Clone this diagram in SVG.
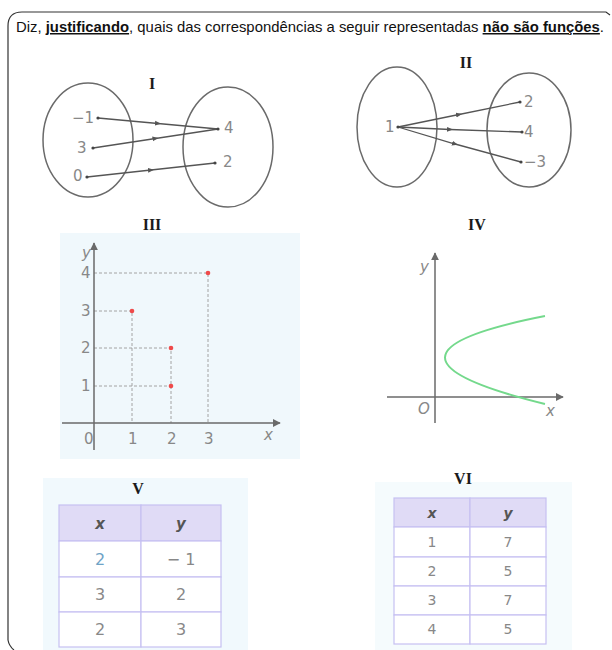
<svg xmlns="http://www.w3.org/2000/svg" width="612" height="650" viewBox="0 0 612 650">
<defs>
<style>
.title{font-family:"Liberation Sans",Arial,sans-serif;font-size:15px;fill:#111}
.roman{font-family:"Liberation Serif","Times New Roman",serif;font-weight:bold;font-size:16px;fill:#1a1a1a;text-anchor:middle}
.num{font-family:"DejaVu Sans","Liberation Sans",sans-serif;font-size:15px;fill:#888}
.ax{font-family:"DejaVu Sans","Liberation Sans",sans-serif;font-size:15px;fill:#888;font-style:italic}
.ell{fill:none;stroke:#6a6a6a;stroke-width:1.5}
.map{fill:none;stroke:#555;stroke-width:1.3;marker-mid:url(#mid)}
.dot{fill:#444}
.axis{stroke:#6a6a6a;stroke-width:1.5;fill:none}
.dash{stroke:#9a9a9a;stroke-width:0.9;stroke-dasharray:3 2;fill:none}
.pt{fill:#ef4a4a}
.cell{fill:#fff;stroke:#c6c0f2;stroke-width:1.2}
.head{fill:#e0dbf6;stroke:#c6c0f2;stroke-width:1.2}
.th{font-family:"DejaVu Sans","Liberation Sans",sans-serif;font-weight:bold;font-style:italic;font-size:15px;fill:#555;text-anchor:middle}
.td{font-family:"DejaVu Sans","Liberation Sans",sans-serif;font-size:16px;fill:#888;text-anchor:middle}
</style>
<marker id="mid" viewBox="0 0 10 10" refX="5" refY="5" markerWidth="6" markerHeight="6" orient="auto" markerUnits="userSpaceOnUse">
<path d="M0,1 L10,5 L0,9 Z" fill="#555"/>
</marker>
<marker id="axarr" viewBox="0 0 10 10" refX="9" refY="5" markerWidth="8" markerHeight="8" orient="auto" markerUnits="userSpaceOnUse">
<path d="M0,0 L10,5 L0,10 Z" fill="#6a6a6a"/>
</marker>
</defs>
<rect width="612" height="650" fill="#fff"/>
<!-- frame -->
<path d="M8,640 L8,26 Q8,12 22,12 L606,12 L610,15" fill="none" stroke="#333" stroke-width="1.2"/>
<path d="M8,640 Q9,646 14,650" fill="none" stroke="#333" stroke-width="1.2"/>
<text class="title" x="16" y="32" textLength="588" lengthAdjust="spacingAndGlyphs">Diz, <tspan font-weight="bold" text-decoration="underline">justificando</tspan>, quais das correspondências a seguir representadas <tspan font-weight="bold" text-decoration="underline">não são funções</tspan>.</text>

<!-- I -->
<g id="diagram-I">
<text class="roman" x="152" y="89">I</text>
<ellipse class="ell" cx="88" cy="140" rx="45" ry="57"/>
<ellipse class="ell" cx="228" cy="147" rx="45" ry="60"/>
<text class="num" x="72" y="123">−1</text>
<text class="num" x="77" y="153">3</text>
<text class="num" x="73" y="181">0</text>
<text class="num" x="224" y="133">4</text>
<text class="num" x="223" y="167">2</text>
</g>
<!-- II -->
<g id="diagram-II">
<text class="roman" x="466" y="68">II</text>
<ellipse class="ell" cx="397" cy="127" rx="40" ry="60"/>
<ellipse class="ell" cx="529" cy="130" rx="42" ry="57"/>
<text class="num" x="385" y="132">1</text>
<text class="num" x="524" y="107">2</text>
<text class="num" x="524" y="137">4</text>
<text class="num" x="524" y="167">−3</text>
</g>
<g id="connectors">
<path class="map" d="M98,118 L158,123.5 L218,129"/>
<path class="map" d="M93,148 L155.5,138.5 L218,129"/>
<path class="map" d="M87,177 L151,170 L215,163"/>
<path class="map" d="M398,127 L459,114.5 L520,102"/>
<path class="map" d="M398,127 L450,129.5 L522,132"/>
<path class="map" d="M398,127 L455,144 L521,162"/>
<circle class="dot" cx="98" cy="118" r="1.6"/>
<circle class="dot" cx="93" cy="148" r="1.6"/>
<circle class="dot" cx="87" cy="177" r="1.6"/>
<circle class="dot" cx="218" cy="129" r="1.6"/>
<circle class="dot" cx="215" cy="163" r="1.6"/>
<circle class="dot" cx="398" cy="127" r="1.6"/>
<circle class="dot" cx="520" cy="102" r="1.6"/>
<circle class="dot" cx="522" cy="132" r="1.6"/>
<circle class="dot" cx="521" cy="162" r="1.6"/>
</g>

<!-- III -->
<g id="diagram-III">
<text class="roman" x="152" y="230">III</text>
<rect x="60" y="233" width="240" height="226" fill="#f0f8fc"/>
<path class="dash" d="M94,273 H208 V423"/>
<path class="dash" d="M94,311 H132 V423"/>
<path class="dash" d="M94,348 H171 V423"/>
<path class="dash" d="M94,386 H171"/>
<line class="axis" x1="94" y1="450" x2="94" y2="243" marker-end="url(#axarr)"/>
<line class="axis" x1="62" y1="423" x2="280" y2="423" marker-end="url(#axarr)"/>
<circle class="pt" cx="132" cy="311" r="2.3"/>
<circle class="pt" cx="171" cy="348" r="2.3"/>
<circle class="pt" cx="171" cy="386" r="2.3"/>
<circle class="pt" cx="208" cy="273" r="2.3"/>
<text class="ax" x="82" y="258">y</text>
<text class="num" x="81" y="278">4</text>
<text class="num" x="81" y="316">3</text>
<text class="num" x="81" y="353">2</text>
<text class="num" x="81" y="391">1</text>
<text class="num" x="84" y="444">0</text>
<text class="num" x="128" y="444">1</text>
<text class="num" x="167" y="444">2</text>
<text class="num" x="204" y="444">3</text>
<text class="ax" x="264" y="440">x</text>
</g>

<!-- IV -->
<g id="diagram-IV">
<text class="roman" x="477" y="230">IV</text>
<line class="axis" x1="435" y1="423" x2="435" y2="253" marker-end="url(#axarr)" stroke="#777"/>
<line class="axis" x1="387" y1="397" x2="563" y2="397" marker-end="url(#axarr)" stroke="#777"/>
<path d="M545,316 Q345,355 545,404" fill="none" stroke="#74d98c" stroke-width="2"/>
<text class="ax" x="420" y="272">y</text>
<text class="ax" x="418" y="414">O</text>
<text class="ax" x="546" y="416">x</text>
</g>

<!-- V -->
<g id="diagram-V">
<rect x="43" y="478" width="205" height="172" fill="#f1f9fd"/>
<text class="roman" x="138" y="494">V</text>
<rect class="head" x="59" y="505" width="82" height="36"/>
<rect class="head" x="141" y="505" width="80" height="36"/>
<rect class="cell" x="59" y="541" width="82" height="36"/>
<rect class="cell" x="141" y="541" width="80" height="36"/>
<rect class="cell" x="59" y="577" width="82" height="35"/>
<rect class="cell" x="141" y="577" width="80" height="35"/>
<rect class="cell" x="59" y="612" width="82" height="35"/>
<rect class="cell" x="141" y="612" width="80" height="35"/>
<text class="th" x="100" y="529">x</text>
<text class="th" x="181" y="529">y</text>
<text class="td" x="100" y="565" style="fill:#6fa3c6">2</text>
<text class="td" x="181" y="565">− 1</text>
<text class="td" x="100" y="600">3</text>
<text class="td" x="181" y="600">2</text>
<text class="td" x="100" y="635">2</text>
<text class="td" x="181" y="635">3</text>
</g>

<!-- VI -->
<g id="diagram-VI">
<rect x="375" y="482" width="197" height="168" fill="#f5fbfd"/>
<text class="roman" x="463" y="484">VI</text>
<rect class="head" x="394" y="498" width="76" height="29"/>
<rect class="head" x="470" y="498" width="76" height="29"/>
<rect class="cell" x="394" y="527" width="76" height="30"/>
<rect class="cell" x="470" y="527" width="76" height="30"/>
<rect class="cell" x="394" y="557" width="76" height="29"/>
<rect class="cell" x="470" y="557" width="76" height="29"/>
<rect class="cell" x="394" y="586" width="76" height="29"/>
<rect class="cell" x="470" y="586" width="76" height="29"/>
<rect class="cell" x="394" y="615" width="76" height="29"/>
<rect class="cell" x="470" y="615" width="76" height="29"/>
<text class="th" x="432" y="518" style="font-size:14px">x</text>
<text class="th" x="508" y="518" style="font-size:14px">y</text>
<text class="td" x="432" y="547" style="font-size:14px">1</text>
<text class="td" x="508" y="547" style="font-size:14px">7</text>
<text class="td" x="432" y="576" style="font-size:14px">2</text>
<text class="td" x="508" y="576" style="font-size:14px">5</text>
<text class="td" x="432" y="605" style="font-size:14px">3</text>
<text class="td" x="508" y="605" style="font-size:14px">7</text>
<text class="td" x="432" y="634" style="font-size:14px">4</text>
<text class="td" x="508" y="634" style="font-size:14px">5</text>
</g>
</svg>
